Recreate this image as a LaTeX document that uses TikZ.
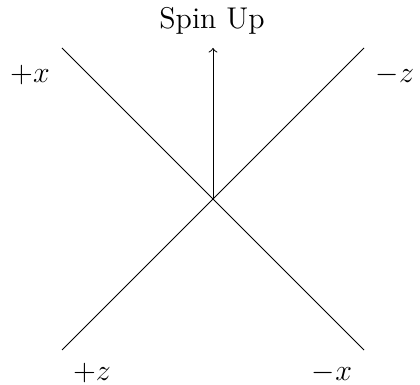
\documentclass[tikz,border=0pt]{standalone}
\begin{document}
\begin{tikzpicture}[x=0.4pt,y=-0.4pt,
  lbl/.style={inner sep=0pt,font=\large},
  axisline/.style={line width=0.4pt},
  spinarrow/.style={->,line width=0.4pt}]
\useasboundingbox (0,0) rectangle (420,385);
\coordinate (c) at (213,199);
\coordinate (tl) at (62,48);
\coordinate (tr) at (364,48);
\coordinate (bl) at (62,350);
\coordinate (br) at (364,350);
\coordinate (up) at (213,48);
\draw[axisline] (tl) -- (br);
\draw[axisline] (bl) -- (tr);
\draw[spinarrow] (c) -- (up);
\node[lbl] (spin) at (212,21) {Spin Up};
\node[lbl] (px) at (30,75) {$+x$};
\node[lbl] (mz) at (395,75) {$-z$};
\node[lbl] (pz) at (92,373) {$+z$};
\node[lbl] (mx) at (332,373) {$-x$};
\end{tikzpicture}
\end{document}
